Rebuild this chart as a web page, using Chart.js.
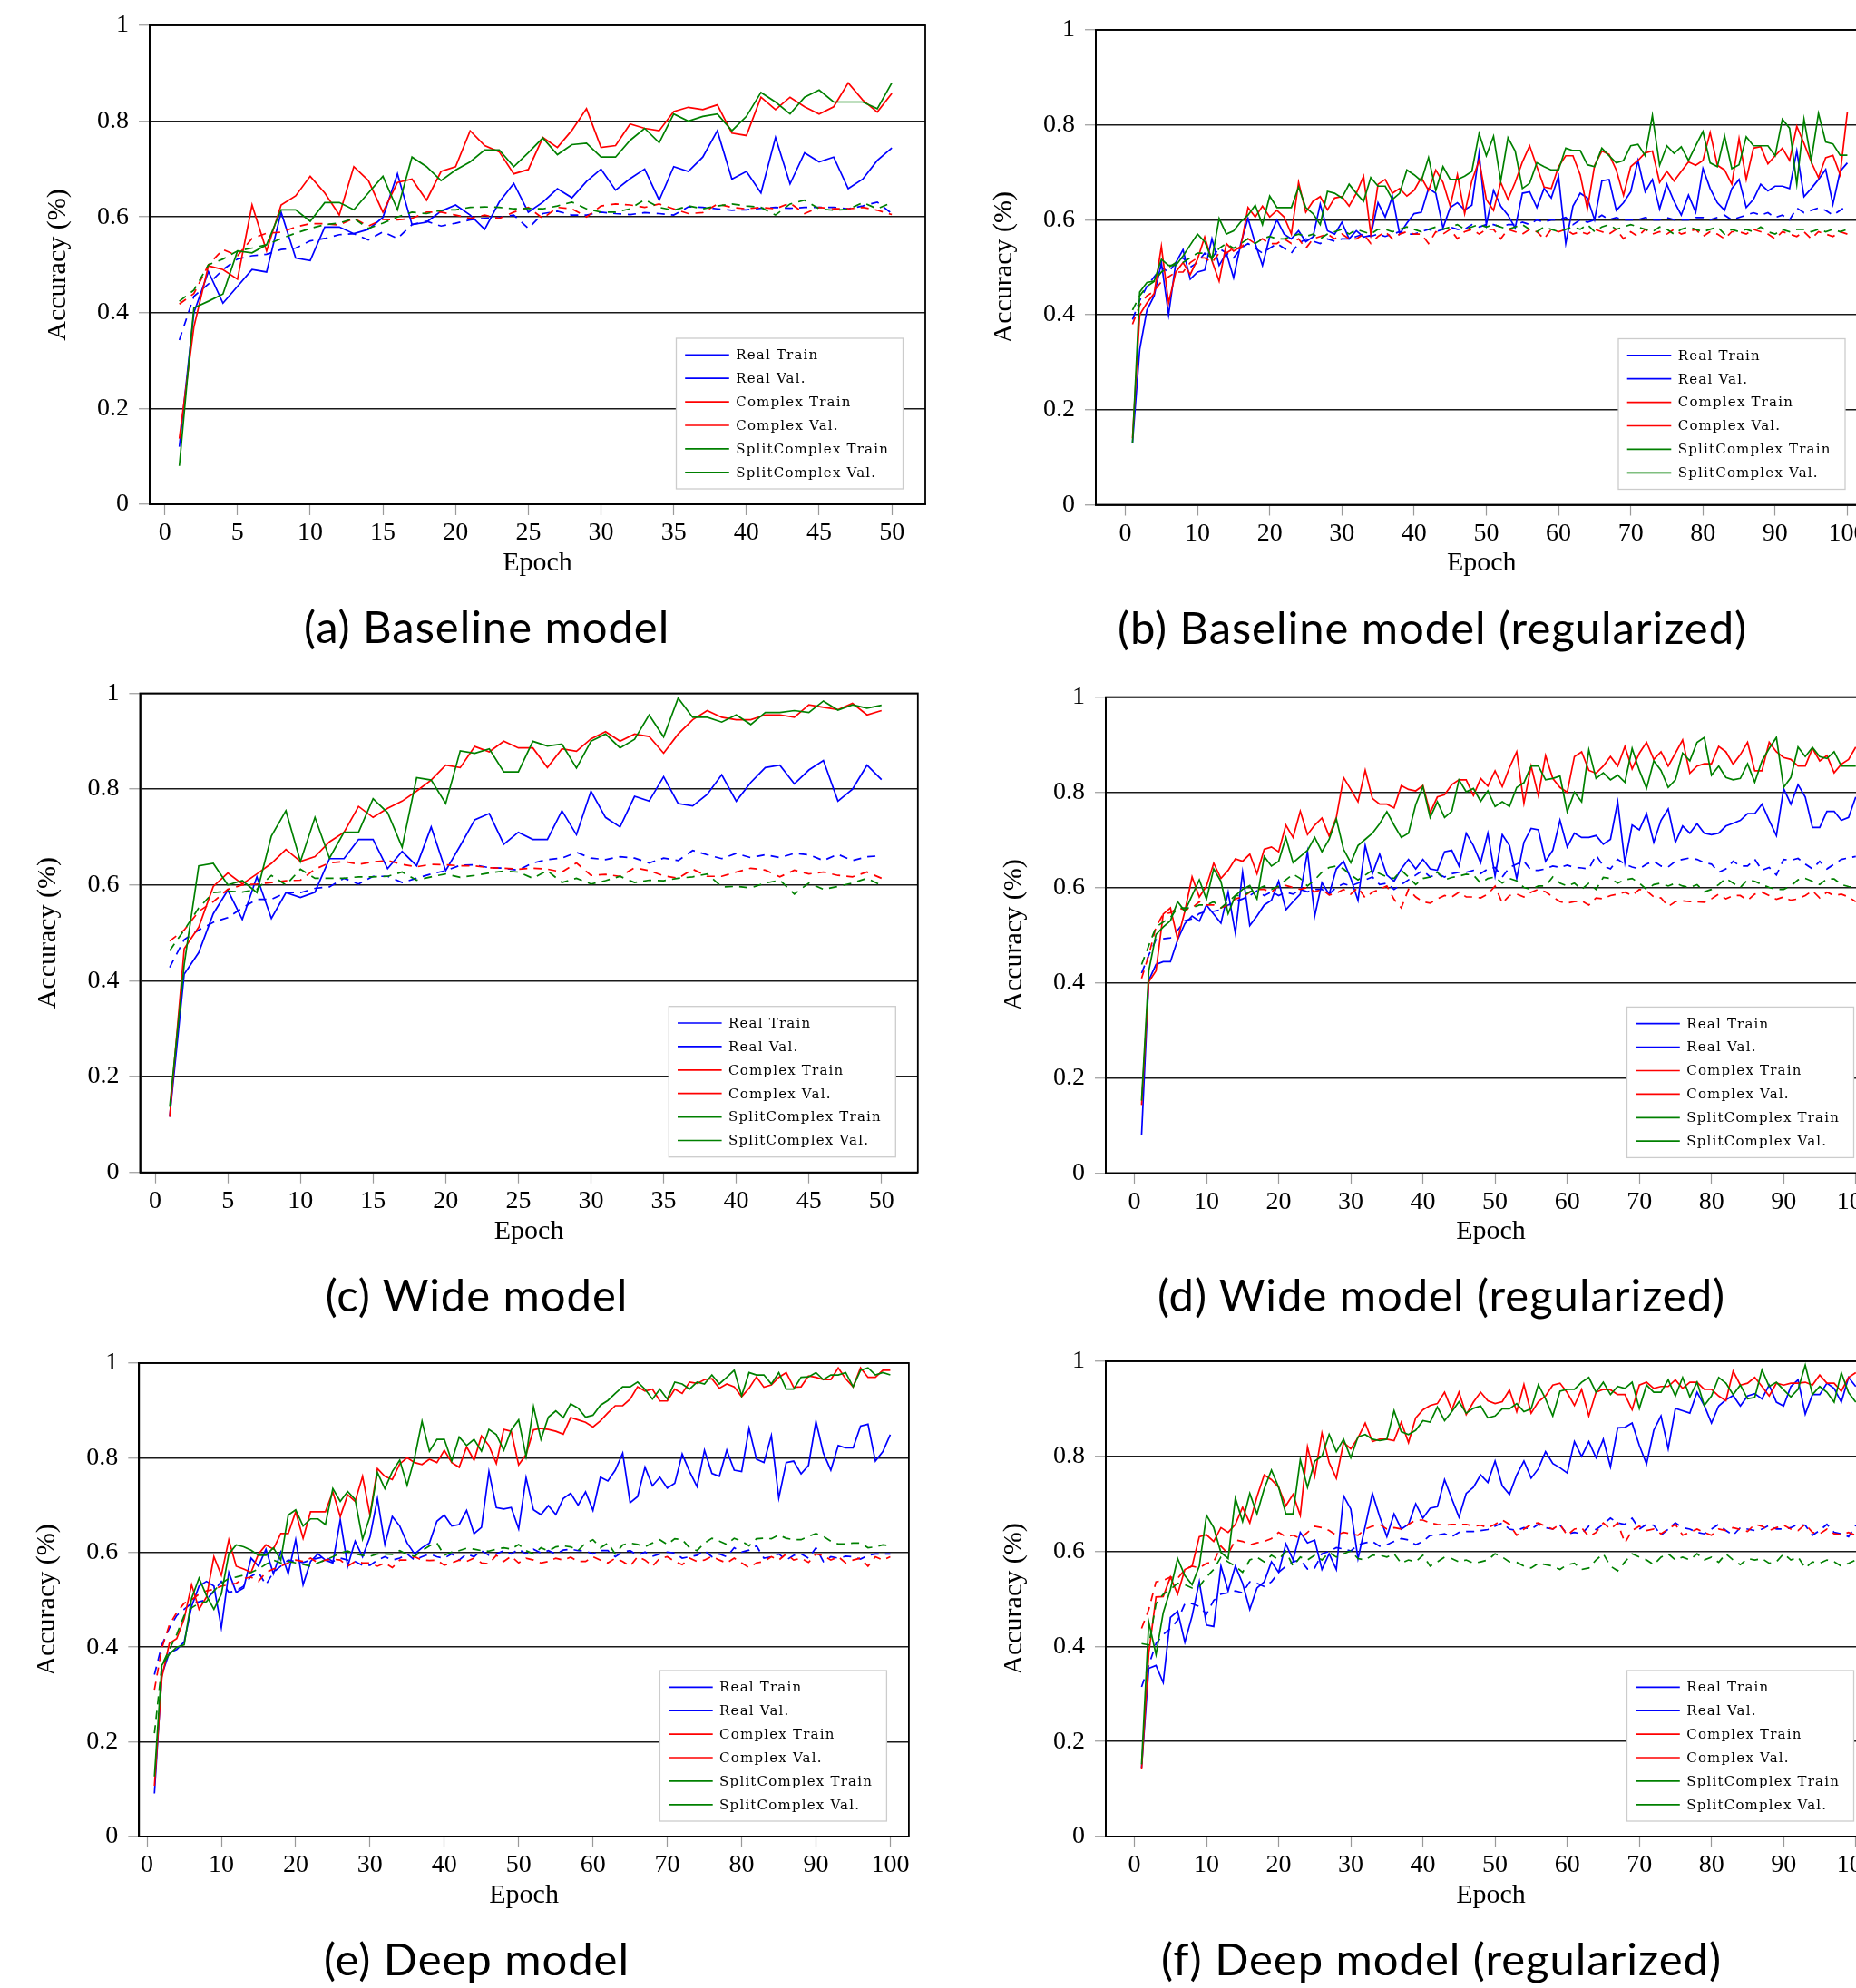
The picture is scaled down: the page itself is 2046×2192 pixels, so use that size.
<!DOCTYPE html>
<html>
<head>
<meta charset="utf-8">
<script src="https://cdn.jsdelivr.net/npm/chart.js@4.4.0/dist/chart.umd.min.js"></script>
<style>
html,body{margin:0;padding:0;width:2046px;height:2192px;overflow:hidden;background:#fff;position:relative;}
canvas{position:absolute;}
.cap{position:absolute;font-family:Lato,"Liberation Sans",sans-serif;font-size:49px;letter-spacing:0.95px;color:#000;white-space:nowrap;text-align:center;width:1200px;line-height:64px;height:64px;}
</style>
</head>
<body>
<script>
// ---------------- DATA ----------------
const legendLabels = ['Real Train','Real Val.','Complex Train','Complex Val.','SplitComplex Train','SplitComplex Val.'];
const yTicks = [0,0.2,0.4,0.6,0.8,1];
const xTicks50 = [0,5,10,15,20,25,30,35,40,45,50];
const xTicks100 = [0,10,20,30,40,50,60,70,80,90,100];
const epochs50 = [1,2,3,4,5,6,7,8,9,10,11,12,13,14,15,16,17,18,19,20,21,22,23,24,25,26,27,28,29,30,31,32,33,34,35,36,37,38,39,40,41,42,43,44,45,46,47,48,49,50];
const epochs100 = [1,2,3,4,5,6,7,8,9,10,11,12,13,14,15,16,17,18,19,20,21,22,23,24,25,26,27,28,29,30,31,32,33,34,35,36,37,38,39,40,41,42,43,44,45,46,47,48,49,50,51,52,53,54,55,56,57,58,59,60,61,62,63,64,65,66,67,68,69,70,71,72,73,74,75,76,77,78,79,80,81,82,83,84,85,86,87,88,89,90,91,92,93,94,95,96,97,98,99,100];
const captions = ['(a) Baseline model','(b) Baseline model (regularized)','(c) Wide model','(d) Wide model (regularized)','(e) Deep model','(f) Deep model (regularized)'];

// (a) Baseline model
const aRealTrain = [0.12,0.40,0.486,0.42,0.455,0.49,0.485,0.61,0.514,0.509,0.579,0.579,0.565,0.574,0.599,0.69,0.584,0.589,0.612,0.625,0.604,0.574,0.631,0.67,0.61,0.631,0.659,0.64,0.674,0.70,0.656,0.68,0.70,0.635,0.705,0.695,0.725,0.78,0.679,0.695,0.65,0.766,0.669,0.734,0.715,0.725,0.659,0.679,0.718,0.744];
const aRealVal = [0.343,0.434,0.46,0.49,0.512,0.519,0.522,0.532,0.535,0.55,0.555,0.563,0.565,0.552,0.569,0.555,0.584,0.591,0.581,0.587,0.594,0.597,0.599,0.604,0.576,0.607,0.612,0.604,0.604,0.61,0.607,0.605,0.609,0.607,0.604,0.621,0.62,0.617,0.614,0.615,0.618,0.62,0.618,0.62,0.62,0.62,0.617,0.623,0.631,0.607];
const aComplexTrain = [0.137,0.37,0.498,0.49,0.47,0.625,0.529,0.625,0.644,0.685,0.65,0.604,0.705,0.676,0.61,0.672,0.679,0.635,0.695,0.705,0.78,0.749,0.736,0.69,0.699,0.766,0.745,0.781,0.826,0.745,0.749,0.794,0.785,0.78,0.82,0.829,0.824,0.834,0.775,0.77,0.85,0.824,0.85,0.83,0.815,0.83,0.88,0.844,0.819,0.858];
const aComplexVal = [0.418,0.44,0.50,0.532,0.519,0.555,0.566,0.568,0.579,0.586,0.586,0.583,0.597,0.581,0.595,0.594,0.597,0.61,0.61,0.604,0.597,0.604,0.597,0.61,0.62,0.597,0.62,0.617,0.60,0.623,0.627,0.625,0.62,0.627,0.617,0.607,0.609,0.627,0.62,0.617,0.62,0.617,0.629,0.607,0.62,0.617,0.617,0.62,0.614,0.605];
const aSplitTrain = [0.08,0.41,0.424,0.439,0.529,0.525,0.542,0.615,0.615,0.591,0.63,0.63,0.615,0.65,0.685,0.615,0.725,0.705,0.676,0.698,0.715,0.74,0.74,0.705,0.734,0.765,0.73,0.751,0.754,0.725,0.725,0.76,0.785,0.755,0.815,0.80,0.81,0.815,0.78,0.81,0.86,0.84,0.815,0.85,0.865,0.84,0.84,0.84,0.826,0.88];
const aSplitVal = [0.424,0.447,0.50,0.512,0.529,0.535,0.542,0.555,0.566,0.576,0.584,0.587,0.597,0.576,0.587,0.60,0.61,0.607,0.614,0.615,0.62,0.621,0.62,0.617,0.618,0.617,0.623,0.631,0.617,0.61,0.61,0.617,0.636,0.62,0.614,0.623,0.617,0.623,0.627,0.623,0.62,0.604,0.627,0.635,0.617,0.614,0.616,0.63,0.617,0.63];

// (b) Baseline model (regularized)
const bRealTrain = [0.13,0.327,0.41,0.44,0.51,0.40,0.51,0.537,0.475,0.49, 0.494,0.56,0.504,0.53,0.478,0.55,0.603,0.55,0.504,0.564, 0.60,0.57,0.56,0.577,0.554,0.564,0.633,0.577,0.57,0.595, 0.56,0.577,0.564,0.567,0.636,0.606,0.649,0.57,0.593,0.613, 0.616,0.666,0.656,0.583,0.626,0.636,0.621,0.631,0.741,0.59, 0.662,0.629,0.61,0.583,0.656,0.659,0.626,0.666,0.646,0.692, 0.55,0.629,0.656,0.646,0.60,0.682,0.685,0.62,0.636,0.659, 0.725,0.659,0.685,0.623,0.675,0.639,0.61,0.652,0.616,0.708, 0.666,0.636,0.62,0.666,0.685,0.626,0.643,0.675,0.661,0.671, 0.671,0.666,0.745,0.649,0.666,0.685,0.706,0.633,0.702,0.72];
const bRealVal = [0.39,0.43,0.46,0.48,0.50,0.49,0.51,0.52,0.50,0.51, 0.53,0.52,0.54,0.53,0.52,0.54,0.55,0.54,0.53,0.54, 0.55,0.54,0.53,0.55,0.56,0.555,0.55,0.56,0.555,0.56, 0.56,0.565,0.57,0.565,0.57,0.565,0.57,0.575,0.57,0.57, 0.575,0.58,0.575,0.58,0.585,0.58,0.58,0.59,0.585,0.59, 0.59,0.585,0.59,0.59,0.595,0.59,0.60,0.595,0.60,0.60, 0.605,0.59,0.60,0.595,0.60,0.61,0.60,0.605,0.60,0.60, 0.60,0.605,0.60,0.60,0.605,0.60,0.60,0.60,0.605,0.605, 0.60,0.605,0.61,0.60,0.605,0.61,0.615,0.61,0.615,0.605, 0.61,0.60,0.625,0.615,0.62,0.625,0.62,0.61,0.62,0.63];
const bComplexTrain = [0.14,0.40,0.425,0.445,0.544,0.425,0.49,0.51,0.485,0.517, 0.564,0.514,0.471,0.55,0.534,0.544,0.626,0.606,0.629,0.606, 0.62,0.606,0.57,0.679,0.616,0.639,0.649,0.621,0.646,0.649, 0.629,0.656,0.692,0.57,0.675,0.685,0.656,0.666,0.65,0.662, 0.689,0.662,0.705,0.679,0.629,0.695,0.613,0.682,0.725,0.643, 0.62,0.679,0.643,0.679,0.722,0.756,0.712,0.669,0.666,0.712, 0.735,0.735,0.695,0.623,0.715,0.745,0.738,0.705,0.652,0.712, 0.725,0.741,0.745,0.679,0.702,0.682,0.702,0.722,0.715,0.725, 0.784,0.715,0.705,0.675,0.771,0.685,0.751,0.754,0.718,0.735, 0.751,0.725,0.797,0.761,0.722,0.689,0.731,0.736,0.695,0.827];
const bComplexVal = [0.38,0.42,0.44,0.45,0.47,0.48,0.49,0.49,0.51,0.52, 0.52,0.51,0.53,0.53,0.54,0.54,0.56,0.55,0.56,0.55, 0.55,0.56,0.55,0.56,0.54,0.56,0.565,0.57,0.56,0.57, 0.56,0.56,0.57,0.55,0.565,0.575,0.56,0.57,0.575,0.57, 0.57,0.55,0.575,0.57,0.58,0.56,0.575,0.58,0.57,0.58, 0.58,0.56,0.58,0.575,0.57,0.58,0.575,0.56,0.58,0.575, 0.58,0.57,0.575,0.57,0.58,0.575,0.57,0.58,0.56,0.575, 0.565,0.58,0.57,0.575,0.57,0.58,0.57,0.575,0.58,0.565, 0.575,0.57,0.56,0.575,0.575,0.57,0.58,0.575,0.57,0.56, 0.575,0.57,0.565,0.575,0.56,0.575,0.57,0.565,0.575,0.57];
const bSplitTrain = [0.13,0.448,0.468,0.471,0.517,0.504,0.504,0.524,0.547,0.57, 0.554,0.517,0.603,0.57,0.577,0.596,0.61,0.631,0.59,0.65, 0.626,0.626,0.626,0.669,0.626,0.613,0.59,0.66,0.656,0.646, 0.675,0.656,0.639,0.689,0.671,0.671,0.643,0.656,0.705,0.695, 0.682,0.731,0.662,0.712,0.685,0.685,0.692,0.702,0.782,0.735, 0.776,0.682,0.773,0.745,0.666,0.677,0.72,0.712,0.705,0.705, 0.751,0.746,0.746,0.716,0.712,0.751,0.735,0.72,0.725,0.756, 0.759,0.735,0.82,0.715,0.756,0.74,0.754,0.725,0.756,0.786, 0.72,0.712,0.777,0.708,0.716,0.775,0.756,0.756,0.756,0.735, 0.812,0.793,0.675,0.812,0.725,0.824,0.764,0.76,0.736,0.736];
const bSplitVal = [0.41,0.44,0.46,0.47,0.49,0.50,0.51,0.51,0.52,0.53, 0.53,0.52,0.54,0.55,0.54,0.55,0.56,0.55,0.56,0.565, 0.56,0.56,0.565,0.57,0.565,0.57,0.56,0.57,0.575,0.58, 0.57,0.58,0.575,0.57,0.58,0.58,0.575,0.58,0.585,0.58, 0.575,0.58,0.585,0.58,0.585,0.59,0.58,0.585,0.59,0.585, 0.59,0.585,0.58,0.585,0.59,0.58,0.575,0.585,0.58,0.575, 0.58,0.585,0.58,0.59,0.575,0.585,0.59,0.58,0.585,0.59, 0.585,0.58,0.575,0.585,0.58,0.57,0.58,0.585,0.58,0.575, 0.58,0.585,0.57,0.58,0.575,0.58,0.575,0.585,0.575,0.57, 0.58,0.575,0.58,0.58,0.575,0.58,0.575,0.58,0.575,0.58];

// (c) Wide model
const cRealTrain = [0.116,0.414,0.459,0.54,0.589,0.528,0.617,0.53,0.584,0.574,0.585,0.655,0.655,0.695,0.695,0.634,0.67,0.64,0.721,0.63,0.682,0.736,0.749,0.685,0.71,0.695,0.695,0.755,0.705,0.796,0.741,0.721,0.785,0.775,0.826,0.77,0.765,0.789,0.83,0.775,0.814,0.845,0.85,0.811,0.84,0.86,0.775,0.80,0.85,0.82];
const cRealVal = [0.428,0.486,0.506,0.522,0.532,0.552,0.57,0.57,0.584,0.584,0.593,0.596,0.614,0.602,0.618,0.618,0.605,0.614,0.623,0.63,0.641,0.642,0.636,0.635,0.631,0.646,0.653,0.656,0.668,0.656,0.653,0.659,0.656,0.646,0.656,0.651,0.672,0.663,0.655,0.666,0.657,0.663,0.657,0.666,0.663,0.651,0.664,0.651,0.659,0.661];
const cComplexTrain = [0.116,0.467,0.512,0.597,0.625,0.602,0.623,0.645,0.674,0.649,0.659,0.69,0.71,0.764,0.741,0.76,0.775,0.796,0.819,0.85,0.845,0.889,0.878,0.90,0.886,0.886,0.845,0.884,0.879,0.905,0.92,0.90,0.915,0.91,0.875,0.915,0.945,0.964,0.95,0.945,0.945,0.955,0.955,0.95,0.976,0.971,0.966,0.979,0.955,0.964];
const cComplexVal = [0.483,0.506,0.545,0.565,0.591,0.60,0.602,0.605,0.609,0.61,0.633,0.646,0.649,0.643,0.648,0.651,0.643,0.638,0.643,0.642,0.64,0.64,0.636,0.635,0.633,0.635,0.633,0.627,0.646,0.62,0.622,0.618,0.636,0.63,0.619,0.614,0.633,0.618,0.618,0.627,0.635,0.631,0.617,0.631,0.623,0.627,0.62,0.617,0.627,0.614];
const cSplitTrain = [0.137,0.434,0.64,0.645,0.60,0.609,0.584,0.702,0.755,0.649,0.741,0.656,0.71,0.71,0.78,0.751,0.679,0.824,0.819,0.77,0.88,0.875,0.884,0.836,0.836,0.90,0.89,0.894,0.844,0.90,0.915,0.886,0.904,0.955,0.909,0.99,0.95,0.95,0.94,0.955,0.935,0.96,0.96,0.964,0.96,0.984,0.965,0.976,0.969,0.975];
const cSplitVal = [0.463,0.506,0.552,0.584,0.587,0.585,0.591,0.62,0.60,0.633,0.614,0.614,0.614,0.617,0.617,0.618,0.627,0.61,0.617,0.623,0.616,0.62,0.625,0.629,0.627,0.614,0.63,0.605,0.614,0.602,0.609,0.618,0.605,0.61,0.609,0.614,0.617,0.623,0.596,0.597,0.594,0.604,0.61,0.581,0.604,0.591,0.597,0.604,0.614,0.599];

// (d) Wide model (regularized)
const dRealTrain = [0.08,0.405,0.438,0.444,0.444,0.49,0.524,0.54,0.529,0.563, 0.544,0.525,0.59,0.504,0.632,0.52,0.54,0.563,0.573,0.613, 0.553,0.57,0.586,0.675,0.54,0.61,0.586,0.639,0.655,0.619, 0.573,0.688,0.629,0.67,0.626,0.613,0.639,0.659,0.639,0.659, 0.639,0.636,0.675,0.678,0.645,0.714,0.688,0.652,0.714,0.624, 0.711,0.688,0.619,0.695,0.724,0.721,0.655,0.678,0.741,0.685, 0.714,0.705,0.705,0.709,0.691,0.701,0.78,0.652,0.731,0.721, 0.755,0.695,0.741,0.765,0.695,0.729,0.714,0.734,0.714,0.711, 0.714,0.729,0.735,0.741,0.755,0.755,0.775,0.741,0.709,0.808, 0.775,0.816,0.79,0.726,0.726,0.76,0.76,0.741,0.747,0.79];
const dRealVal = [0.42,0.458,0.49,0.492,0.494,0.51,0.53,0.534,0.545,0.55, 0.55,0.553,0.563,0.57,0.576,0.583,0.593,0.583,0.591,0.583, 0.59,0.586,0.596,0.591,0.596,0.596,0.586,0.60,0.608,0.603, 0.609,0.616,0.622,0.606,0.609,0.596,0.606,0.616,0.626,0.636, 0.622,0.629,0.622,0.629,0.632,0.632,0.636,0.629,0.639,0.642, 0.622,0.642,0.649,0.655,0.636,0.636,0.639,0.645,0.642,0.647, 0.642,0.641,0.639,0.668,0.645,0.639,0.659,0.649,0.643,0.639, 0.649,0.655,0.645,0.643,0.655,0.659,0.662,0.659,0.652,0.649, 0.632,0.639,0.655,0.645,0.645,0.659,0.636,0.642,0.626,0.659, 0.657,0.661,0.649,0.639,0.655,0.639,0.649,0.659,0.662,0.665];
const dComplexTrain = [0.143,0.402,0.425,0.544,0.557,0.491,0.55,0.622,0.58,0.603, 0.651,0.619,0.636,0.66,0.655,0.67,0.629,0.68,0.685,0.675, 0.731,0.705,0.76,0.711,0.731,0.746,0.708,0.747,0.831,0.806, 0.78,0.846,0.787,0.775,0.775,0.767,0.814,0.806,0.803,0.814, 0.757,0.79,0.795,0.816,0.826,0.826,0.793,0.829,0.813,0.845, 0.812,0.852,0.885,0.777,0.855,0.793,0.877,0.829,0.81,0.80, 0.875,0.885,0.846,0.84,0.855,0.875,0.855,0.896,0.849,0.882, 0.905,0.869,0.885,0.855,0.882,0.91,0.84,0.855,0.86,0.86, 0.896,0.885,0.859,0.879,0.905,0.845,0.845,0.905,0.885,0.873, 0.869,0.855,0.855,0.892,0.866,0.877,0.841,0.859,0.869,0.895];
const dComplexVal = [0.409,0.458,0.517,0.544,0.547,0.557,0.553,0.557,0.57,0.563, 0.563,0.557,0.563,0.576,0.58,0.59,0.596,0.596,0.59,0.604, 0.604,0.60,0.596,0.60,0.591,0.596,0.584,0.588,0.596,0.586, 0.60,0.578,0.59,0.596,0.603,0.575,0.557,0.596,0.58,0.57, 0.567,0.576,0.583,0.58,0.59,0.58,0.58,0.578,0.586,0.603, 0.567,0.583,0.586,0.58,0.59,0.596,0.591,0.58,0.57,0.567, 0.57,0.572,0.563,0.578,0.576,0.583,0.586,0.59,0.583,0.596, 0.593,0.58,0.578,0.56,0.57,0.572,0.57,0.57,0.569,0.576, 0.586,0.576,0.583,0.583,0.573,0.586,0.59,0.583,0.575,0.58, 0.573,0.576,0.583,0.593,0.578,0.59,0.583,0.586,0.58,0.57];
const dSplitTrain = [0.152,0.425,0.501,0.517,0.53,0.57,0.55,0.583,0.616,0.575, 0.639,0.613,0.545,0.583,0.596,0.604,0.576,0.665,0.645,0.655, 0.705,0.652,0.665,0.678,0.705,0.675,0.701,0.744,0.68,0.652, 0.688,0.701,0.714,0.734,0.759,0.731,0.705,0.714,0.774,0.812, 0.747,0.78,0.747,0.76,0.826,0.801,0.808,0.781,0.803,0.77, 0.78,0.77,0.81,0.82,0.855,0.855,0.826,0.829,0.834,0.759, 0.80,0.78,0.889,0.829,0.841,0.826,0.836,0.821,0.892,0.846, 0.808,0.866,0.846,0.81,0.826,0.882,0.866,0.905,0.915,0.836, 0.855,0.831,0.826,0.829,0.86,0.821,0.866,0.892,0.915,0.81, 0.831,0.895,0.875,0.894,0.875,0.871,0.885,0.855,0.855,0.855];
const dSplitVal = [0.438,0.478,0.517,0.527,0.537,0.557,0.557,0.557,0.563,0.563, 0.57,0.557,0.57,0.583,0.583,0.591,0.596,0.603,0.596,0.603, 0.616,0.628,0.619,0.603,0.616,0.632,0.642,0.645,0.639,0.626, 0.616,0.626,0.636,0.629,0.622,0.619,0.636,0.622,0.606,0.619, 0.622,0.632,0.616,0.621,0.624,0.628,0.626,0.609,0.619,0.622, 0.609,0.619,0.614,0.60,0.596,0.603,0.603,0.622,0.609,0.603, 0.609,0.596,0.609,0.596,0.621,0.619,0.609,0.616,0.619,0.609, 0.596,0.606,0.609,0.603,0.609,0.603,0.60,0.606,0.591,0.596, 0.606,0.619,0.609,0.60,0.616,0.613,0.606,0.60,0.596,0.596, 0.603,0.616,0.619,0.613,0.606,0.618,0.618,0.606,0.602,0.60];

// (e) Deep model
const eRealTrain = [0.091,0.342,0.388,0.395,0.411,0.486,0.529,0.539,0.529,0.441, 0.558,0.516,0.525,0.588,0.571,0.607,0.555,0.601,0.555,0.627, 0.532,0.581,0.597,0.584,0.578,0.669,0.571,0.624,0.591,0.633, 0.714,0.617,0.676,0.656,0.62,0.597,0.61,0.62,0.666,0.679, 0.656,0.659,0.689,0.64,0.653,0.771,0.695,0.692,0.695,0.65, 0.758,0.69,0.68,0.699,0.68,0.714,0.725,0.70,0.728,0.689, 0.759,0.751,0.774,0.81,0.705,0.718,0.78,0.741,0.759,0.736, 0.746,0.808,0.771,0.739,0.816,0.767,0.761,0.816,0.774,0.771, 0.862,0.797,0.79,0.847,0.715,0.79,0.793,0.766,0.784,0.877, 0.81,0.774,0.826,0.821,0.821,0.867,0.871,0.793,0.813,0.849];
const eRealVal = [0.342,0.405,0.44,0.467,0.48,0.493,0.496,0.50,0.519,0.539, 0.516,0.519,0.529,0.55,0.558,0.532,0.558,0.571,0.584,0.581, 0.579,0.584,0.588,0.591,0.581,0.588,0.584,0.581,0.573,0.573, 0.584,0.591,0.584,0.588,0.597,0.584,0.591,0.597,0.591,0.588, 0.597,0.584,0.597,0.591,0.604,0.594,0.597,0.604,0.597,0.607, 0.597,0.607,0.599,0.604,0.597,0.605,0.607,0.604,0.603,0.597, 0.604,0.604,0.591,0.601,0.604,0.594,0.601,0.592,0.597,0.601, 0.599,0.588,0.591,0.594,0.604,0.591,0.597,0.591,0.61,0.601, 0.605,0.614,0.588,0.591,0.597,0.584,0.594,0.597,0.588,0.61, 0.581,0.591,0.588,0.592,0.591,0.586,0.594,0.597,0.597,0.597];
const eComplexTrain = [0.107,0.336,0.408,0.418,0.46,0.532,0.48,0.506,0.591,0.552, 0.627,0.571,0.565,0.558,0.597,0.616,0.607,0.64,0.64,0.686, 0.63,0.686,0.686,0.686,0.728,0.676,0.722,0.708,0.761,0.679, 0.777,0.761,0.754,0.787,0.80,0.79,0.786,0.797,0.79,0.816, 0.79,0.78,0.823,0.795,0.846,0.826,0.788,0.86,0.856,0.785, 0.807,0.859,0.862,0.86,0.856,0.85,0.885,0.88,0.875,0.865, 0.878,0.895,0.91,0.91,0.924,0.95,0.941,0.945,0.92,0.92, 0.945,0.936,0.96,0.957,0.965,0.967,0.947,0.956,0.95,0.929, 0.947,0.971,0.949,0.954,0.97,0.98,0.949,0.95,0.973,0.97, 0.965,0.965,0.99,0.967,0.95,0.99,0.97,0.97,0.985,0.985];
const eComplexVal = [0.31,0.398,0.447,0.473,0.493,0.50,0.512,0.519,0.522,0.529, 0.532,0.535,0.545,0.548,0.539,0.558,0.565,0.571,0.578,0.584, 0.581,0.588,0.578,0.584,0.586,0.584,0.571,0.581,0.578,0.578, 0.571,0.578,0.568,0.584,0.584,0.591,0.584,0.583,0.584,0.573, 0.578,0.584,0.581,0.588,0.578,0.576,0.594,0.581,0.592,0.578, 0.588,0.584,0.578,0.581,0.588,0.584,0.59,0.581,0.581,0.591, 0.584,0.578,0.588,0.581,0.571,0.591,0.584,0.571,0.588,0.591, 0.581,0.574,0.588,0.581,0.584,0.592,0.584,0.578,0.588,0.578, 0.568,0.578,0.581,0.591,0.584,0.597,0.584,0.588,0.579,0.597, 0.594,0.584,0.591,0.578,0.584,0.588,0.571,0.591,0.584,0.591];
const eSplitTrain = [0.127,0.362,0.385,0.40,0.405,0.503,0.546,0.509,0.48,0.512, 0.597,0.616,0.612,0.605,0.594,0.594,0.61,0.584,0.679,0.69, 0.656,0.671,0.671,0.659,0.735,0.708,0.729,0.712,0.628,0.676, 0.769,0.735,0.771,0.795,0.742,0.80,0.877,0.814,0.839,0.839, 0.793,0.844,0.826,0.839,0.814,0.86,0.849,0.816,0.859,0.88, 0.803,0.908,0.839,0.886,0.899,0.885,0.914,0.905,0.886,0.89, 0.911,0.921,0.936,0.95,0.95,0.96,0.945,0.924,0.945,0.924, 0.96,0.956,0.945,0.96,0.956,0.975,0.956,0.97,0.985,0.931, 0.98,0.975,0.975,0.956,0.98,0.945,0.945,0.97,0.971,0.98, 0.965,0.975,0.975,0.98,0.95,0.985,0.99,0.975,0.98,0.975];
const eSplitVal = [0.218,0.362,0.395,0.427,0.467,0.483,0.493,0.496,0.519,0.535, 0.545,0.548,0.552,0.558,0.565,0.575,0.584,0.578,0.581,0.578, 0.575,0.571,0.578,0.584,0.591,0.599,0.603,0.597,0.594,0.592, 0.597,0.597,0.596,0.604,0.596,0.592,0.604,0.614,0.62,0.594, 0.601,0.604,0.609,0.607,0.604,0.603,0.607,0.61,0.607,0.617, 0.604,0.597,0.61,0.603,0.612,0.614,0.612,0.604,0.62,0.627, 0.61,0.62,0.597,0.616,0.62,0.617,0.612,0.62,0.627,0.617, 0.629,0.627,0.61,0.604,0.62,0.63,0.624,0.617,0.63,0.624, 0.614,0.629,0.63,0.629,0.637,0.63,0.627,0.627,0.634,0.64, 0.634,0.624,0.618,0.618,0.62,0.62,0.61,0.612,0.616,0.614];

// (f) Deep model (regularized)
const fRealTrain = [0.145,0.354,0.36,0.324,0.461,0.474,0.409,0.464,0.536,0.445, 0.442,0.569,0.517,0.569,0.533,0.478,0.523,0.536,0.578,0.556, 0.616,0.582,0.64,0.618,0.624,0.562,0.595,0.562,0.717,0.689, 0.585,0.653,0.722,0.673,0.631,0.679,0.647,0.657,0.70,0.67, 0.691,0.694,0.751,0.711,0.672,0.722,0.735,0.761,0.745,0.79, 0.738,0.72,0.761,0.79,0.754,0.774,0.81,0.785,0.776,0.765, 0.831,0.80,0.831,0.797,0.836,0.778,0.86,0.861,0.87,0.823, 0.784,0.855,0.885,0.816,0.901,0.896,0.891,0.935,0.907,0.87, 0.906,0.919,0.928,0.906,0.927,0.932,0.921,0.95,0.914,0.906, 0.947,0.961,0.889,0.93,0.93,0.954,0.943,0.914,0.966,0.947];
const fRealVal = [0.315,0.36,0.406,0.425,0.438,0.455,0.49,0.49,0.484,0.468, 0.497,0.51,0.513,0.517,0.513,0.536,0.533,0.526,0.536,0.556, 0.569,0.578,0.582,0.563,0.565,0.595,0.60,0.608,0.605,0.601, 0.614,0.618,0.621,0.611,0.614,0.621,0.627,0.624,0.614,0.621, 0.634,0.634,0.637,0.631,0.64,0.642,0.642,0.644,0.646,0.653, 0.66,0.647,0.644,0.65,0.647,0.657,0.65,0.647,0.655,0.637, 0.64,0.637,0.653,0.646,0.657,0.67,0.66,0.657,0.67,0.647, 0.657,0.655,0.634,0.647,0.66,0.65,0.647,0.64,0.637,0.647, 0.657,0.644,0.634,0.65,0.647,0.644,0.647,0.655,0.647,0.647, 0.65,0.657,0.655,0.634,0.644,0.657,0.64,0.637,0.631,0.655];
const fComplexTrain = [0.142,0.386,0.504,0.505,0.546,0.51,0.562,0.569,0.631,0.635, 0.621,0.65,0.64,0.657,0.693,0.66,0.715,0.761,0.751,0.735, 0.696,0.72,0.676,0.82,0.758,0.849,0.787,0.754,0.829,0.816, 0.839,0.87,0.831,0.836,0.836,0.833,0.872,0.829,0.881,0.898, 0.907,0.911,0.935,0.898,0.935,0.888,0.914,0.935,0.917,0.911, 0.915,0.94,0.894,0.951,0.891,0.915,0.927,0.95,0.954,0.934, 0.907,0.941,0.885,0.935,0.941,0.94,0.93,0.93,0.898,0.95, 0.956,0.943,0.947,0.947,0.961,0.943,0.956,0.956,0.941,0.941, 0.927,0.917,0.979,0.95,0.954,0.966,0.947,0.927,0.954,0.95, 0.954,0.954,0.956,0.95,0.971,0.954,0.954,0.937,0.966,0.976];
const fComplexVal = [0.438,0.478,0.536,0.539,0.546,0.543,0.562,0.569,0.565,0.575, 0.578,0.611,0.595,0.624,0.621,0.614,0.618,0.621,0.627,0.64, 0.631,0.634,0.627,0.64,0.653,0.65,0.644,0.634,0.64,0.637, 0.634,0.647,0.653,0.657,0.647,0.65,0.647,0.657,0.666,0.666, 0.66,0.657,0.655,0.657,0.657,0.657,0.653,0.655,0.65,0.657, 0.666,0.657,0.634,0.647,0.657,0.66,0.653,0.647,0.657,0.634, 0.647,0.65,0.631,0.64,0.66,0.647,0.66,0.618,0.644,0.653, 0.644,0.647,0.637,0.647,0.657,0.634,0.64,0.647,0.64,0.634, 0.647,0.644,0.65,0.646,0.642,0.657,0.653,0.644,0.65,0.655, 0.647,0.644,0.657,0.64,0.637,0.647,0.637,0.635,0.64,0.634];
const fSplitTrain = [0.152,0.451,0.383,0.471,0.52,0.585,0.549,0.53,0.569,0.676, 0.65,0.598,0.585,0.712,0.663,0.722,0.679,0.732,0.771,0.735, 0.679,0.679,0.793,0.735,0.79,0.80,0.846,0.81,0.836,0.797, 0.841,0.846,0.836,0.833,0.836,0.896,0.852,0.846,0.855,0.875, 0.872,0.904,0.875,0.894,0.915,0.891,0.901,0.906,0.881,0.885, 0.90,0.90,0.911,0.894,0.90,0.951,0.921,0.885,0.937,0.941, 0.941,0.956,0.966,0.935,0.956,0.93,0.947,0.943,0.956,0.901, 0.95,0.935,0.935,0.961,0.927,0.966,0.925,0.956,0.907,0.927, 0.966,0.954,0.93,0.95,0.921,0.924,0.982,0.947,0.956,0.94, 0.925,0.941,0.992,0.93,0.947,0.935,0.914,0.976,0.934,0.914];
const fSplitVal = [0.406,0.403,0.49,0.51,0.52,0.533,0.53,0.523,0.526,0.546, 0.562,0.588,0.578,0.569,0.556,0.582,0.588,0.578,0.592,0.583, 0.60,0.569,0.588,0.582,0.592,0.582,0.598,0.588,0.595,0.601, 0.585,0.582,0.592,0.592,0.588,0.595,0.575,0.582,0.578,0.592, 0.569,0.578,0.588,0.585,0.578,0.582,0.575,0.578,0.582,0.595, 0.588,0.578,0.577,0.569,0.565,0.575,0.572,0.569,0.562,0.572, 0.575,0.562,0.565,0.582,0.595,0.569,0.559,0.578,0.595,0.588, 0.582,0.572,0.588,0.595,0.582,0.588,0.582,0.595,0.582,0.588, 0.577,0.595,0.582,0.572,0.585,0.582,0.585,0.575,0.578,0.595, 0.582,0.588,0.565,0.578,0.575,0.582,0.578,0.569,0.575,0.582];

// ---------------- LAYOUT / STYLE ----------------
const seriesColors = ['#0000ff','#0000ff','#ff0000','#ff0000','#008000','#008000'];
const panels = [
  {col:0, plotL:165,   plotR:1020,   plotT:28,    plotB:556,    xmin:-1.04, xmax:52.3,  epochs:epochs50,  xTicks:xTicks50,  capX:536.6, series:[aRealTrain,aRealVal,aComplexTrain,aComplexVal,aSplitTrain,aSplitVal]},
  {col:1, plotL:1208,  plotR:2058.5, plotT:33,    plotB:556.5,  xmin:-4.08, xmax:102.77,epochs:epochs100, xTicks:xTicks100, capX:1579,  series:[bRealTrain,bRealVal,bComplexTrain,bComplexVal,bSplitTrain,bSplitVal]},
  {col:0, plotL:154.4, plotR:1011.8, plotT:764.5, plotB:1292.7, xmin:-1.04, xmax:52.5,  epochs:epochs50,  xTicks:xTicks50,  capX:525.5, series:[cRealTrain,cRealVal,cComplexTrain,cComplexVal,cSplitTrain,cSplitVal]},
  {col:1, plotL:1219,  plotR:2068,   plotT:768.6, plotB:1293.4, xmin:-3.96, xmax:102.8, epochs:epochs100, xTicks:xTicks100, capX:1589,  series:[dRealTrain,dRealVal,dComplexTrain,dComplexVal,dSplitTrain,dSplitVal]},
  {col:0, plotL:153.3, plotR:1001.9, plotT:1503,  plotB:2025,   xmin:-1.07, xmax:102.5, epochs:epochs100, xTicks:xTicks100, capX:525.5, series:[eRealTrain,eRealVal,eComplexTrain,eComplexVal,eSplitTrain,eSplitVal]},
  {col:1, plotL:1219,  plotR:2068,   plotT:1501,  plotB:2025,   xmin:-3.96, xmax:102.8, epochs:epochs100, xTicks:xTicks100, capX:1589,  series:[fRealTrain,fRealVal,fComplexTrain,fComplexVal,fSplitTrain,fSplitVal]}
];

Chart.defaults.font.family = '"Liberation Serif","Times New Roman",serif';
Chart.defaults.color = '#000';

const boxLegend = {
  id: 'boxLegend',
  afterDatasetsDraw(chart) {
    const ctx = chart.ctx, a = chart.chartArea;
    const w = 250, h = 166;
    const left = a.right - 24.5 - w, top = a.bottom - 17 - h;
    ctx.save();
    ctx.fillStyle = '#ffffff';
    ctx.fillRect(left, top, w, h);
    ctx.strokeStyle = '#cccccc';
    ctx.lineWidth = 1.3;
    ctx.setLineDash([]);
    ctx.strokeRect(left, top, w, h);
    chart.data.datasets.forEach((ds, i) => {
      const y = top + 18.3 + i * 25.9;
      ctx.strokeStyle = ds.borderColor;
      ctx.lineWidth = 1.7;
      ctx.beginPath(); ctx.moveTo(left + 9.7, y); ctx.lineTo(left + 58.3, y); ctx.stroke();
      ctx.fillStyle = '#000';
      ctx.font = '15px "DejaVu Serif"';
      ctx.letterSpacing = '1.2px';
      ctx.textBaseline = 'middle';
      ctx.textAlign = 'left';
      ctx.fillText(ds.label, left + 65.7, y + 1);
    });
    ctx.restore();
  }
};
const frame = {
  id: 'frame',
  afterDraw(chart) {
    const ctx = chart.ctx, a = chart.chartArea;
    ctx.save();
    ctx.strokeStyle = '#000';
    ctx.lineWidth = 1.8;
    ctx.setLineDash([]);
    ctx.strokeRect(a.left, a.top, a.right - a.left, a.bottom - a.top);
    ctx.restore();
  }
};

panels.forEach((p, k) => {
  const cx = p.col === 0 ? 0 : 1040;
  const cy = Math.round(p.plotT - 60);
  const cw = Math.round(p.plotR + 14 - cx);
  const ch = Math.round(p.plotB + 112 - cy);
  const xAxisH = 100;
  const canvas = document.createElement('canvas');
  canvas.width = cw; canvas.height = ch;
  canvas.style.left = cx + 'px'; canvas.style.top = cy + 'px';
  canvas.style.width = cw + 'px'; canvas.style.height = ch + 'px';
  document.body.appendChild(canvas);
  const padTop = p.plotT - cy;
  const padRight = cx + cw - p.plotR;
  const padBottom = cy + ch - (p.plotB + xAxisH);
  const yW = p.plotL - cx;
  const yTitleRel = p.plotL - 101 - cx;
  const xTitleY = p.plotB + 65;

  const datasets = p.series.map((s, i) => ({
    label: legendLabels[i],
    data: s.map((v, j) => ({x: p.epochs[j], y: v})),
    borderColor: seriesColors[i],
    backgroundColor: seriesColors[i],
    borderWidth: 1.7,
    borderDash: (i % 2 === 1) ? [9, 7] : [],
    pointRadius: 0,
    pointHoverRadius: 0,
    tension: 0,
    fill: false,
    order: 5 - i
  }));

  new Chart(canvas, {
    type: 'line',
    data: {datasets},
    options: {
      responsive: false,
      animation: false,
      devicePixelRatio: 1,
      events: [],
      layout: {autoPadding: false, padding: {left: 0, top: padTop, right: padRight, bottom: padBottom}},
      plugins: {legend: {display: false}, tooltip: {enabled: false}},
      scales: {
        x: {
          type: 'linear', min: p.xmin, max: p.xmax,
          afterBuildTicks: (s) => { s.ticks = p.xTicks.map(v => ({value: v})); },
          afterFit: (s) => { s.height = xAxisH; },
          grid: {drawOnChartArea: false, drawTicks: true, tickLength: 12, tickColor: '#9a9a9a', tickWidth: 1.2},
          border: {display: true, color: '#000', width: 1.8},
          ticks: {font: {size: 28}, color: '#000', padding: 3, maxRotation: 0, autoSkip: false, callback: (v) => String(v)},
          title: {display: true, text: 'Epoch', font: {size: 30}, color: '#000', padding: {top: 0, bottom: (p.plotB + xAxisH) - xTitleY - 18}}
        },
        y: {
          type: 'linear', min: 0, max: 1,
          afterBuildTicks: (s) => { s.ticks = yTicks.map(v => ({value: v})); },
          afterFit: (s) => { s.width = yW; },
          grid: {color: '#1a1a1a', lineWidth: 1.5, drawTicks: true, tickLength: 12, tickColor: '#9a9a9a', tickWidth: 1.2},
          border: {display: true, color: '#000', width: 1.8},
          ticks: {font: {size: 28}, color: '#000', padding: 11, callback: (v) => String(v)},
          title: {display: true, text: 'Accuracy (%)', font: {size: 30}, color: '#000', padding: {top: yTitleRel - 18, bottom: 0}}
        }
      }
    },
    plugins: [boxLegend, frame]
  });

  const cap = document.createElement('div');
  cap.className = 'cap';
  cap.textContent = captions[k];
  cap.style.left = (p.capX - 600) + 'px';
  cap.style.top = (p.plotB + 134 - 32) + 'px';
  document.body.appendChild(cap);
});
</script>
</body>
</html>
